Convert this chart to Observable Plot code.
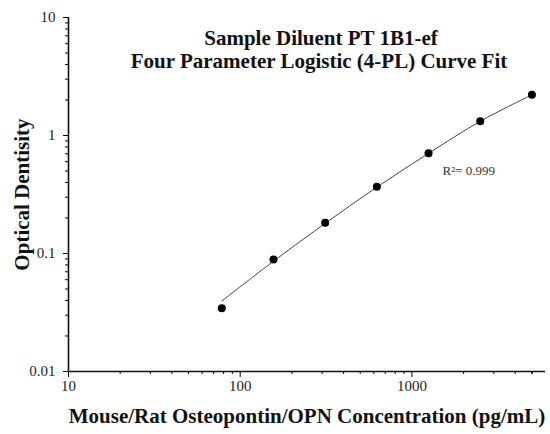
<!DOCTYPE html>
<html>
<head>
<meta charset="utf-8">
<script src="https://cdn.jsdelivr.net/npm/d3@7"></script>
<script src="https://cdn.jsdelivr.net/npm/@observablehq/plot@0.6"></script>
<style>
  html, body { margin: 0; padding: 0; background: #fff; }
</style>
</head>
<body>
<div id="chart"></div>
<script>
// Standard concentrations (pg/mL) and measured optical densities
const concentrations = [78.125, 156.25, 312.5, 625, 1250, 2500, 5000];
const odValues = [0.0344, 0.0889, 0.182, 0.368, 0.708, 1.32, 2.22];
// Fitted 4-PL curve values at each standard
const curveOD = [0.0395, 0.086, 0.180, 0.365, 0.705, 1.32, 2.21];

const titleLines = ["Sample Diluent PT 1B1-ef", "Four Parameter Logistic (4-PL) Curve Fit"];
const xLabel = "Mouse/Rat Osteopontin/OPN Concentration (pg/mL)";
const yLabel = "Optical Dentisity";
const r2Label = "R\u00B2= 0.999";
const r2Pos = {x: 1510, y: 0.505};

const xMajor = [10, 100, 1000];
const xLabeledMinor = [5000];
const xMinor = [20, 30, 40, 50, 60, 70, 80, 90, 200, 300, 400, 500, 600, 700, 800, 900, 2000, 3000, 4000, 5000];
const yMajor = [0.01, 0.1, 1, 10];
const yMinor = [0.02, 0.03, 0.04, 0.05, 0.06, 0.07, 0.08, 0.09, 0.2, 0.3, 0.4, 0.5, 0.6, 0.7, 0.8, 0.9, 2, 3, 4, 5, 6, 7, 8, 9];

const points = concentrations.map((c, i) => ({c, od: odValues[i]}));
const curve = concentrations.map((c, i) => ({c, od: curveOD[i]}));

const serif = "'Liberation Serif', 'Times New Roman', serif";

const chart = Plot.plot({
  width: 550,
  height: 434,
  marginLeft: 68,
  marginRight: 5,
  marginTop: 17,
  marginBottom: 63,
  style: {fontFamily: serif, fontSize: "15px", background: "#fff", color: "#000", overflow: "visible"},
  x: {type: "log", domain: [10, 6000]},
  y: {type: "log", domain: [0.01, 10]},
  marks: [
    Plot.axisX({ticks: xMinor, tickSize: 3, tickFormat: () => "", label: null}),
    Plot.axisX({ticks: xMajor, tickSize: 6, tickPadding: 3, tickFormat: d => String(d), label: null, fontSize: 15, fill: "#222"}),
    Plot.axisX({ticks: xLabeledMinor, tickSize: 3, tickPadding: 6, tickFormat: d => String(d), label: null, fontSize: 15, fill: "#222"}),
    Plot.axisY({ticks: yMinor, tickSize: 3, tickFormat: () => "", label: null}),
    Plot.axisY({ticks: yMajor, tickSize: 5, tickPadding: 8, tickFormat: d => String(d), label: null, fontSize: 15, fill: "#222"}),
    Plot.ruleX([10], {stroke: "#111", strokeWidth: 1.6}),
    Plot.ruleY([0.01], {stroke: "#111", strokeWidth: 1.6}),
    Plot.line(curve, {x: "c", y: "od", stroke: "#444", strokeWidth: 1, curve: "catmull-rom"}),
    Plot.dot(points, {x: "c", y: "od", r: 4, fill: "#000", stroke: "none"}),
    Plot.text([r2Label], {x: r2Pos.x, y: r2Pos.y, text: d => d, textAnchor: "start", fontSize: 13, fill: "#333"}),
    Plot.text([titleLines[0]], {frameAnchor: "top", text: d => d, lineAnchor: "middle", dx: 14, dy: 21, fontSize: 21, fontWeight: "bold", fill: "#111"}),
    Plot.text([titleLines[1]], {frameAnchor: "top", text: d => d, lineAnchor: "middle", dx: 12, dy: 44, fontSize: 21, fontWeight: "bold", fill: "#111"}),
    Plot.text([xLabel], {frameAnchor: "bottom", text: d => d, lineAnchor: "middle", textAnchor: "middle", dy: 45, fontSize: 21, fontWeight: "bold", fill: "#111"}),
    Plot.text([yLabel], {frameAnchor: "left", text: d => d, lineAnchor: "middle", textAnchor: "middle", dx: -46, rotate: -90, fontSize: 21, fontWeight: "bold", fill: "#111"})
  ]
});
document.getElementById("chart").appendChild(chart);
</script>
</body>
</html>
